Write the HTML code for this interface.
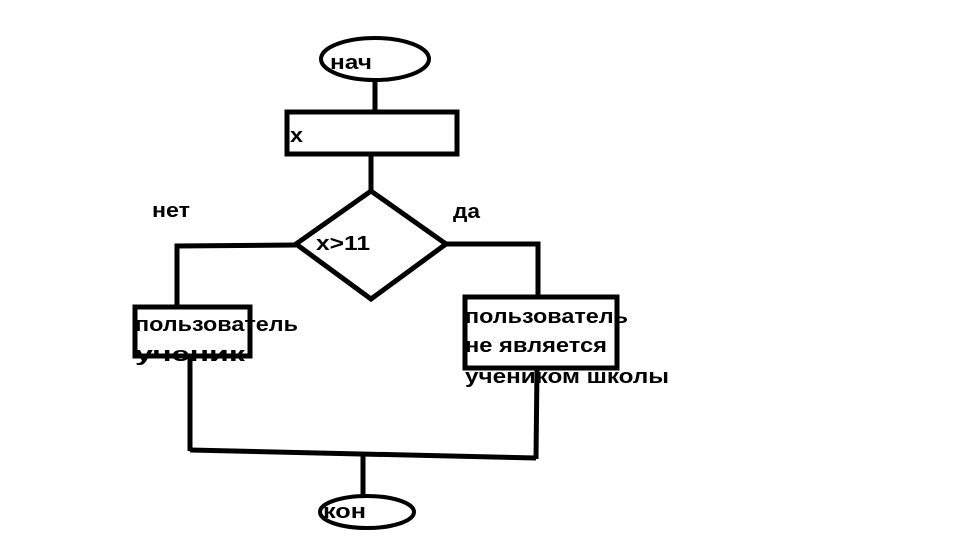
<!DOCTYPE html>
<html><head><meta charset="utf-8"><style>
html,body{margin:0;padding:0;background:#fff;width:960px;height:540px;overflow:hidden}
svg{display:block}
text{font-family:"Liberation Sans","DejaVu Sans",sans-serif;font-weight:bold;font-size:20px;fill:#000}
</style></head><body>
<svg width="960" height="540" viewBox="0 0 960 540">
<g fill="none" stroke="#000" stroke-width="5">
<ellipse cx="375" cy="59" rx="54" ry="21" stroke-width="4"/>
<line x1="375" y1="80" x2="375" y2="111"/>
<rect x="287" y="112" width="170" height="42"/>
<line x1="371" y1="155" x2="371" y2="191"/>
<polygon points="371,191 296,244 371,299 446,244"/>
<polyline points="296,245 177,246 177,306"/>
<polyline points="446,244 538,244 538,297"/>
<rect x="135" y="307" width="115" height="49"/>
<rect x="465" y="297" width="152" height="71"/>
<line x1="190" y1="356" x2="190" y2="451"/>
<line x1="537" y1="368" x2="536" y2="459"/>
<line x1="190" y1="450" x2="536" y2="458"/>
<line x1="363" y1="453" x2="363" y2="497"/>
<ellipse cx="367" cy="512" rx="47" ry="16" stroke-width="4"/>
</g>
<text x="330" y="69" textLength="42" lengthAdjust="spacingAndGlyphs">нач</text>
<text x="290" y="142" textLength="13" lengthAdjust="spacingAndGlyphs">x</text>
<text x="316" y="250" textLength="54" lengthAdjust="spacingAndGlyphs">x&gt;11</text>
<text x="152" y="217" textLength="38" lengthAdjust="spacingAndGlyphs">нет</text>
<text x="453" y="218" textLength="27" lengthAdjust="spacingAndGlyphs">да</text>
<text x="135" y="331" textLength="163" lengthAdjust="spacingAndGlyphs">пользователь</text>
<text x="135" y="361" textLength="110" lengthAdjust="spacingAndGlyphs">ученик</text>
<text x="465" y="323" textLength="163" lengthAdjust="spacingAndGlyphs">пользователь</text>
<text x="465" y="352" textLength="142" lengthAdjust="spacingAndGlyphs">не является</text>
<text x="465" y="383" textLength="204" lengthAdjust="spacingAndGlyphs">учеником школы</text>
<text x="323" y="518" textLength="43" lengthAdjust="spacingAndGlyphs">кон</text>
</svg>
</body></html>
